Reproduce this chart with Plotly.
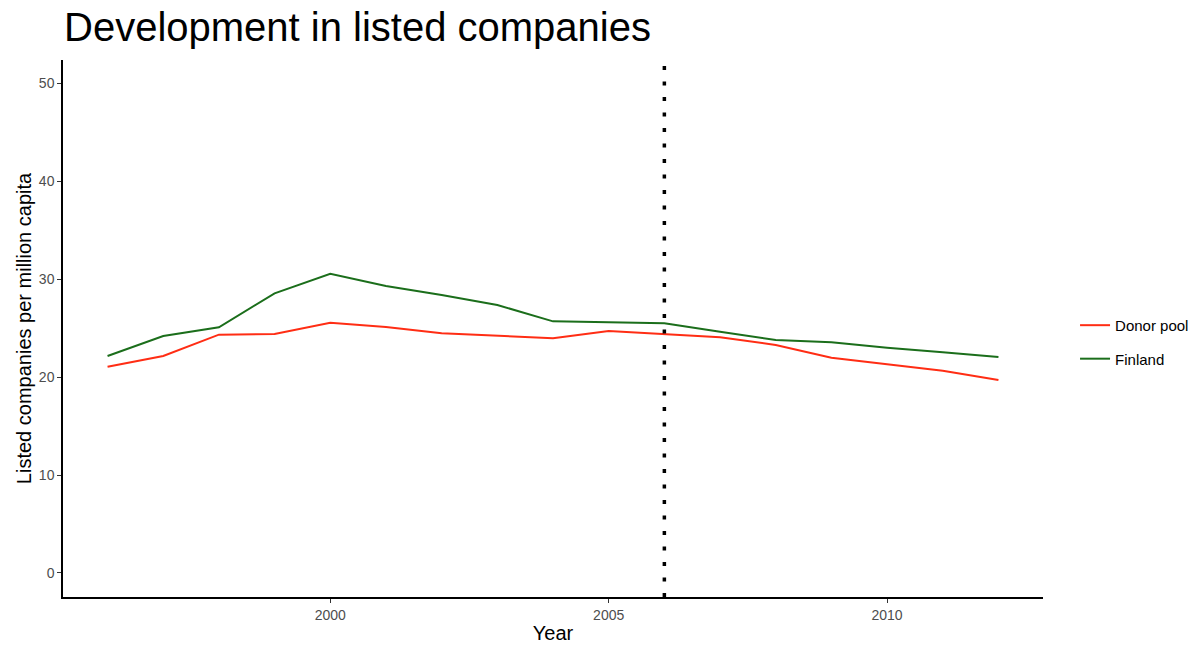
import plotly.graph_objects as go

years = list(range(1996, 2013))
donor_pool = [21.05, 22.14, 24.32, 24.39, 25.54, 25.10, 24.46, 24.18, 23.95, 24.69,
              24.36, 24.05, 23.27, 21.97, 21.30, 20.64, 19.69]
finland = [22.14, 24.18, 25.07, 28.54, 30.54, 29.29, 28.37, 27.35, 25.68, 25.61,
           25.48, 24.62, 23.78, 23.54, 22.99, 22.52, 22.04]
treatment_year = 2006
y_ticks = [0, 10, 20, 30, 40, 50]
x_ticks = [2000, 2005, 2010]

fig = go.Figure()
fig.add_trace(go.Scatter(x=years, y=donor_pool, mode="lines", name="Donor pool",
                         legendgroup="a",
                         line=dict(color="#FF2D14", width=2)))
fig.add_trace(go.Scatter(x=years, y=finland, mode="lines", name="Finland",
                         legendgroup="b",
                         line=dict(color="#1B6E1B", width=2)))

fig.add_shape(type="line", xref="x", yref="paper", x0=treatment_year, x1=treatment_year,
              y0=0, y1=1, line=dict(color="black", width=3.5, dash="4px,11.5px"))

fig.update_layout(
    width=1202, height=646,
    paper_bgcolor="white", plot_bgcolor="white",
    margin=dict(l=63, r=159, t=60, b=49, autoexpand=False),
    title=dict(text="Development in listed companies", x=64/1202, xref="container", xanchor="left",
               y=1 - 27/646, yref="container", yanchor="middle",
               font=dict(family="Liberation Sans, Arial", size=40, color="black"),
               automargin=False),
    font=dict(family="Liberation Sans, Arial", color="black"),
    legend=dict(x=1.0327, y=0.475, xanchor="left", yanchor="middle", yref="paper",
                font=dict(size=15, color="black"), tracegroupgap=11,
                bgcolor="rgba(0,0,0,0)"),
    showlegend=True,
)
fig.update_xaxes(range=[1995.2, 2012.8], tickvals=x_ticks, ticktext=[str(t) for t in x_ticks],
                 automargin=False,
                 showgrid=False, zeroline=False, showline=True, linecolor="black", linewidth=1.5,
                 ticks="outside", ticklen=4, tickcolor="#333333",
                 tickfont=dict(size=14, color="#4d4d4d"),
                 title=dict(text="Year", font=dict(size=20, color="black"), standoff=4))
fig.update_yaxes(range=[-2.45, 52.35], tickvals=y_ticks, ticktext=[str(t) for t in y_ticks],
                 automargin=False,
                 showgrid=False, zeroline=False, showline=True, linecolor="black", linewidth=1.5,
                 ticks="outside", ticklen=4, tickcolor="#333333",
                 tickfont=dict(size=14, color="#4d4d4d"),
                 title=dict(text="Listed companies per million capita",
                            font=dict(size=20, color="black"), standoff=2))

fig.write_html("out.html", config={"displayModeBar": False},
               post_script="document.body.style.margin='0';document.body.style.overflow='hidden';")
